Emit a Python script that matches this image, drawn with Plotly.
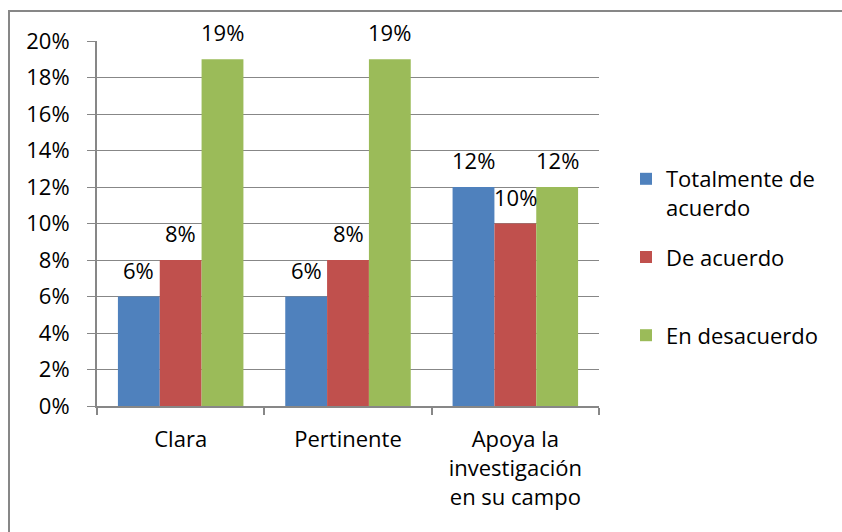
import plotly.graph_objects as go

categories = ["Clara", "Pertinente", "Apoya la<br>investigación<br>en su campo"]
series_names = ["Totalmente de<br>acuerdo", "De acuerdo<br> ", "En desacuerdo"]
totalmente = [0.06, 0.06, 0.12]
de_acuerdo = [0.08, 0.08, 0.10]
desacuerdo = [0.19, 0.19, 0.12]
colors = ["#4F81BD", "#C0504D", "#9BBB59"]
y_ticks = [0, 0.02, 0.04, 0.06, 0.08, 0.10, 0.12, 0.14, 0.16, 0.18, 0.20]

W, H = 842, 532
L, R, T, B = 97, 599, 41, 406
FONT = "Open Sans"
FS = 22

fig = go.Figure()
all_series = [totalmente, de_acuerdo, desacuerdo]
for name, vals, col in zip(series_names, all_series, colors):
    fig.add_trace(go.Bar(
        x=categories, y=vals, name=name, marker_color=col,
        marker_line_width=0, legendgroup=name,
    ))

# data labels
n = len(all_series)
for j, vals in enumerate(all_series):
    for i, v in enumerate(vals):
        fig.add_annotation(
            x=i + (j - (n - 1) / 2) * 0.25, y=v, xref="x", yref="y",
            text=f"{round(v * 100)}%", showarrow=False,
            yanchor="middle", yshift=27,
            font=dict(family=FONT, size=FS, color="#000000"),
        )

# outer chart border (top and left visible)
bx0, by0 = 9, 11
fig.add_shape(
    type="rect", xref="paper", yref="paper",
    x0=(bx0 - L) / (R - L), x1=(W + 10 - L) / (R - L),
    y0=(B - (H + 10)) / (B - T), y1=(B - by0) / (B - T),
    line=dict(color="#878787", width=2), layer="below",
)

fig.update_layout(
    width=W, height=H,
    margin=dict(l=L, r=W - R, t=T, b=H - B),
    paper_bgcolor="white", plot_bgcolor="white",
    barmode="group", bargap=0.25, bargroupgap=0,
    font=dict(family=FONT, size=FS, color="#000000"),
    showlegend=True,
    legend=dict(
        x=(626 - L) / (R - L), xanchor="left",
        y=(B - 158) / (B - T), yanchor="top",
        valign="top", tracegroupgap=18,
        font=dict(family=FONT, size=FS, color="#000000"),
        bgcolor="rgba(0,0,0,0)",
    ),
)
fig.update_xaxes(
    showline=True, linecolor="#878787", linewidth=2,
    ticks="outside", tickson="boundaries", ticklen=7, tickcolor="#878787",
    tickwidth=2, showgrid=False, tickfont=dict(family=FONT, size=FS),
    ticklabelstandoff=13,
)
fig.update_yaxes(
    range=[0, 0.2], tickvals=y_ticks, tickformat=".0%",
    showgrid=True, gridcolor="#878787", gridwidth=1,
    showline=True, linecolor="#878787", linewidth=2,
    ticks="outside", ticklen=8, tickcolor="#878787", tickwidth=1,
    zeroline=False, tickfont=dict(family=FONT, size=FS),
    ticklabelstandoff=13,
)

fig.write_html(
    "out.html",
    config={"displayModeBar": False},
    post_script="document.body.style.margin='0';document.body.style.overflow='hidden';",
)
